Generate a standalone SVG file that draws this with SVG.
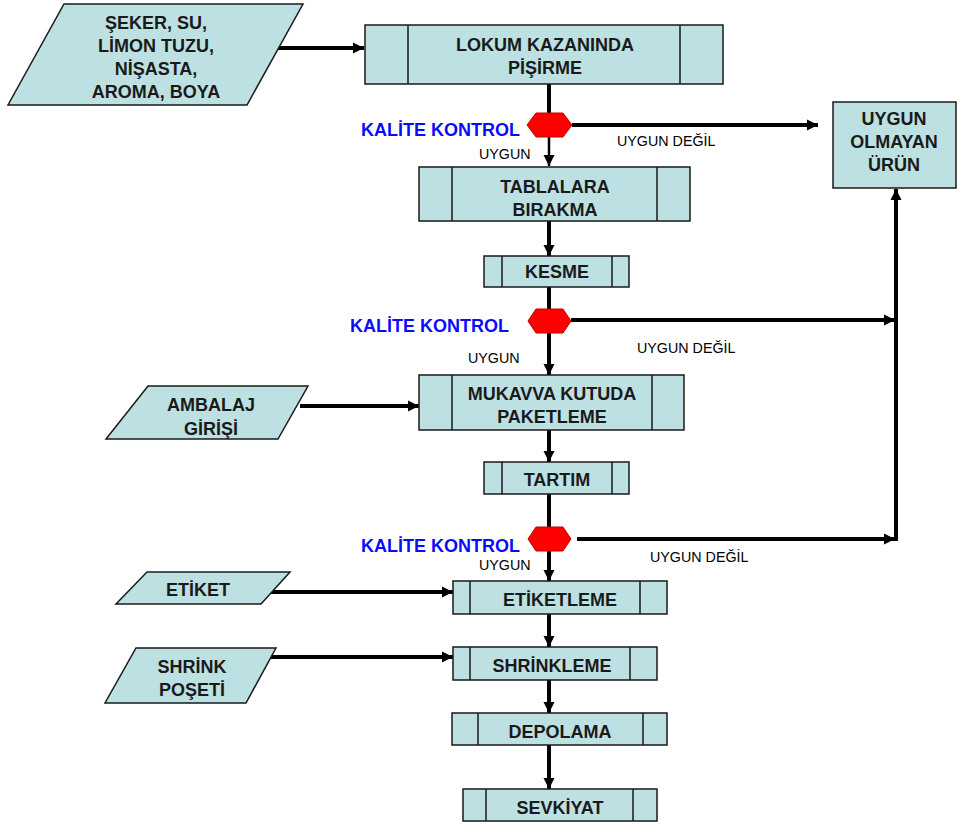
<svg xmlns="http://www.w3.org/2000/svg" width="959" height="827" viewBox="0 0 959 827">
<style>
.box{fill:#bde0e3;stroke:#1a1a1a;stroke-width:1.5}
.in{stroke:#1a1a1a;stroke-width:1.5}
.hex{fill:#ff0000;stroke:#c00000;stroke-width:1}
.t{font-family:"Liberation Sans",Arial,sans-serif;font-weight:bold;font-size:18px;fill:#1a1a1a;text-anchor:middle}
.qc{font-family:"Liberation Sans",Arial,sans-serif;font-weight:bold;font-size:18px;fill:#0a0aff;text-anchor:end}
.lb{font-family:"Liberation Sans",Arial,sans-serif;font-size:14.3px;fill:#000}
.c{stroke:#000;stroke-width:4;fill:none}
.c2{stroke:#000;stroke-width:2.5;fill:none}
</style>
<defs>
<marker id="ah" markerWidth="12" markerHeight="12" refX="11" refY="6" orient="auto" markerUnits="userSpaceOnUse"><path d="M0,0.5 L11,6 L0,11.5 z" fill="#000"/></marker>
</defs>

<g id="connectors">
<line class="c" x1="276" y1="48" x2="364" y2="48" marker-end="url(#ah)"/>
<line class="c" x1="549" y1="84" x2="549" y2="113"/>
<line class="c2" x1="549" y1="137" x2="549" y2="166" marker-end="url(#ah)"/>
<line class="c" x1="572" y1="125" x2="818" y2="125" marker-end="url(#ah)"/>
<line class="c" x1="549" y1="221" x2="549" y2="256" marker-end="url(#ah)"/>
<line class="c" x1="549" y1="287" x2="549" y2="309"/>
<line class="c" x1="549" y1="333" x2="549" y2="375" marker-end="url(#ah)"/>
<line class="c" x1="571" y1="320" x2="895" y2="320" marker-end="url(#ah)"/>
<line class="c" x1="300" y1="406" x2="419" y2="406" marker-end="url(#ah)"/>
<line class="c" x1="549" y1="430" x2="549" y2="462" marker-end="url(#ah)"/>
<line class="c" x1="549" y1="494" x2="549" y2="527"/>
<line class="c" x1="577" y1="539" x2="895" y2="539" marker-end="url(#ah)"/>
<line class="c" x1="896" y1="541" x2="896" y2="189" marker-end="url(#ah)"/>
<line class="c" x1="549" y1="551" x2="549" y2="581" marker-end="url(#ah)"/>
<line class="c" x1="268" y1="592" x2="453" y2="592" marker-end="url(#ah)"/>
<line class="c" x1="549" y1="614" x2="549" y2="647" marker-end="url(#ah)"/>
<line class="c" x1="268" y1="657" x2="453" y2="657" marker-end="url(#ah)"/>
<line class="c" x1="549" y1="680" x2="549" y2="713" marker-end="url(#ah)"/>
<line class="c" x1="549" y1="745" x2="549" y2="789" marker-end="url(#ah)"/>
</g>

<g id="in1">
<polygon class="box" points="64,4 303,4 247,105 8,105"/>
<text class="t" x="156" y="29">ŞEKER, SU,</text>
<text class="t" x="156" y="52">LİMON TUZU,</text>
<text class="t" x="156" y="75">NİŞASTA,</text>
<text class="t" x="156" y="98">AROMA, BOYA</text>
</g>

<g id="lokum">
<rect class="box" x="365" y="25" width="358" height="59"/>
<line class="in" x1="408" y1="25" x2="408" y2="84"/>
<line class="in" x1="680" y1="25" x2="680" y2="84"/>
<text class="t" x="545" y="51">LOKUM KAZANINDA</text>
<text class="t" x="545" y="74">PİŞİRME</text>
</g>

<g id="qc1">
<polygon class="hex" points="527,125 536,113 563,113 572,125 563,137 536,137"/>
<text class="qc" x="520" y="136">KALİTE KONTROL</text>
<text class="lb" x="617" y="146">UYGUN DEĞİL</text>
<text class="lb" x="479" y="159">UYGUN</text>
</g>

<g id="uygunolmayan">
<rect class="box" x="833" y="102" width="123" height="86"/>
<text class="t" x="894" y="125">UYGUN</text>
<text class="t" x="894" y="148">OLMAYAN</text>
<text class="t" x="894" y="171">ÜRÜN</text>
</g>

<g id="tablalara">
<rect class="box" x="419" y="167" width="271" height="54"/>
<line class="in" x1="452" y1="167" x2="452" y2="221"/>
<line class="in" x1="657" y1="167" x2="657" y2="221"/>
<text class="t" x="555" y="193">TABLALARA</text>
<text class="t" x="555" y="216">BIRAKMA</text>
</g>

<g id="kesme">
<rect class="box" x="484" y="256" width="145" height="31"/>
<line class="in" x1="502" y1="256" x2="502" y2="287"/>
<line class="in" x1="612" y1="256" x2="612" y2="287"/>
<text class="t" x="557" y="278">KESME</text>
</g>

<g id="qc2">
<polygon class="hex" points="528,321 536,309 563,309 571,321 563,333 536,333"/>
<text class="qc" x="509" y="332">KALİTE KONTROL</text>
<text class="lb" x="637" y="353">UYGUN DEĞİL</text>
<text class="lb" x="468" y="363">UYGUN</text>
</g>

<g id="ambalaj">
<polygon class="box" points="148,386 308,386 278,439 106,439"/>
<text class="t" x="211" y="411">AMBALAJ</text>
<text class="t" x="211" y="435">GİRİŞİ</text>
</g>

<g id="mukavva">
<rect class="box" x="419" y="375" width="265" height="55"/>
<line class="in" x1="452" y1="375" x2="452" y2="430"/>
<line class="in" x1="652" y1="375" x2="652" y2="430"/>
<text class="t" x="552" y="400">MUKAVVA KUTUDA</text>
<text class="t" x="552" y="423">PAKETLEME</text>
</g>

<g id="tartim">
<rect class="box" x="484" y="462" width="145" height="32"/>
<line class="in" x1="502" y1="462" x2="502" y2="494"/>
<line class="in" x1="612" y1="462" x2="612" y2="494"/>
<text class="t" x="557" y="486">TARTIM</text>
</g>

<g id="qc3">
<polygon class="hex" points="528,539 536,527 563,527 571,539 563,551 536,551"/>
<text class="qc" x="520" y="552">KALİTE KONTROL</text>
<text class="lb" x="650" y="562">UYGUN DEĞİL</text>
<text class="lb" x="479" y="570">UYGUN</text>
</g>

<g id="etiket">
<polygon class="box" points="147,572 290,572 261,604 116,604"/>
<text class="t" x="198" y="596">ETİKET</text>
</g>

<g id="etiketleme">
<rect class="box" x="453" y="581" width="214" height="33"/>
<line class="in" x1="470" y1="581" x2="470" y2="614"/>
<line class="in" x1="640" y1="581" x2="640" y2="614"/>
<text class="t" x="560" y="606">ETİKETLEME</text>
</g>

<g id="shrink">
<polygon class="box" points="136,648 276,648 246,703 105,703"/>
<text class="t" x="192" y="673">SHRİNK</text>
<text class="t" x="192" y="696">POŞETİ</text>
</g>

<g id="shrinkleme">
<rect class="box" x="453" y="647" width="204" height="33"/>
<line class="in" x1="470" y1="647" x2="470" y2="680"/>
<line class="in" x1="630" y1="647" x2="630" y2="680"/>
<text class="t" x="552" y="672">SHRİNKLEME</text>
</g>

<g id="depolama">
<rect class="box" x="452" y="713" width="215" height="32"/>
<line class="in" x1="478" y1="713" x2="478" y2="745"/>
<line class="in" x1="643" y1="713" x2="643" y2="745"/>
<text class="t" x="560" y="738">DEPOLAMA</text>
</g>

<g id="sevkiyat">
<rect class="box" x="463" y="789" width="194" height="32"/>
<line class="in" x1="486" y1="789" x2="486" y2="821"/>
<line class="in" x1="633" y1="789" x2="633" y2="821"/>
<text class="t" x="560" y="814">SEVKİYAT</text>
</g>
</svg>
